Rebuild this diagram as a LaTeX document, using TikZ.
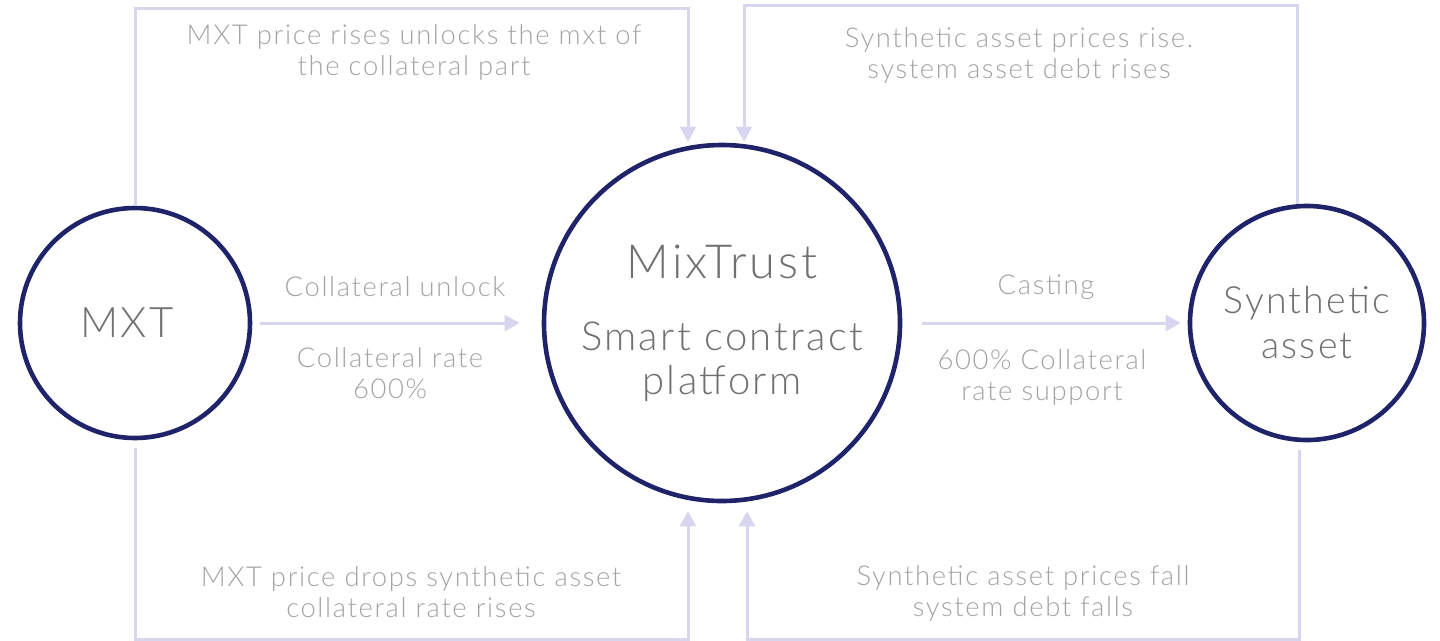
\documentclass[tikz,border=0pt]{standalone}
\usepackage{fontspec}
\setmainfont{Lato}[UprightFont={* Light}, LetterSpace=6]
\usetikzlibrary{arrows.meta}
\definecolor{navy}{HTML}{1F2369}
\definecolor{lav}{HTML}{D6D7EE}
\definecolor{txtgray}{HTML}{A3A3A3}
\definecolor{ringtext}{HTML}{707070}

\begin{document}
\begin{tikzpicture}[x=1pt,y=-1pt,
    ring/.style={circle, draw=navy, line width=4.6pt, text=ringtext, align=center, inner sep=0pt},
    flow/.style={draw=lav, line width=3pt, -{Triangle[length=15pt,width=16pt]}},
    note/.style={text=txtgray, align=center, font=\fontsize{27.4}{31}\selectfont}]
    \useasboundingbox (0,0) rectangle (1440,640);
    \path
        (135,323) node(mxt)[ring, minimum size=230pt]{}
        (722,323) node(mix)[ring, minimum size=356pt]{}
        (1307,323) node(syn)[ring, minimum size=234pt, font=\fontsize{37.5}{45}\selectfont]{Synthetic\\asset};
    \node(mxtname) at (127,323) [text=ringtext, font=\fontsize{42}{50}\selectfont]{MXT};
    \node(mixname) at (722,262) [text=ringtext, font=\fontsize{47}{55}\selectfont]{MixTrust};
    \node(mixsub) at (722,362) [text=ringtext, align=center, font=\fontsize{40}{44}\selectfont]{Smart contract\\platform};
    % labels
    \node(upleft) at (414,52) [note]{MXT price rises unlocks the mxt of\\the collateral part};
    \node(upright) at (1019,55) [note]{Synthetic asset prices rise.\\system asset debt rises};
    \node(unlock) at (395,287) [note]{Collateral unlock};
    \node(rate) at (390,373) [note]{Collateral rate\\600\%};
    \node(cast) at (1046,287) [note]{Casting};
    \node(support) at (1042,377) [note]{600\% Collateral\\rate support};
    \node(downleft) at (411,592) [note]{MXT price drops synthetic asset\\collateral rate rises};
    \node(downright) at (1023,593) [note]{Synthetic asset prices fall\\system debt falls};
    % connectors
    \draw [flow, shorten <=8pt, shorten >=22pt] (mxt) -- (mix);
    \draw [flow, shorten <=20pt, shorten >=7pt] (mix) -- (syn);
    \draw [flow, shorten >=1pt] (mxt.north) -- ++(0,-197) -| ([xshift=-34pt]mix.north);
    \draw [flow, shorten >=1pt] ([xshift=-10pt]syn.north) -- ++(0,-198) -| ([xshift=22pt]mix.north);
    \draw [flow, shorten <=8pt, shorten >=8pt] (mxt.south) -- ++(0,199) -| ([xshift=-34pt]mix.south);
    \draw [flow, shorten <=8pt, shorten >=8pt] ([xshift=-8pt]syn.south) -- ++(0,197) -| ([xshift=25pt]mix.south);
\end{tikzpicture}
\end{document}
